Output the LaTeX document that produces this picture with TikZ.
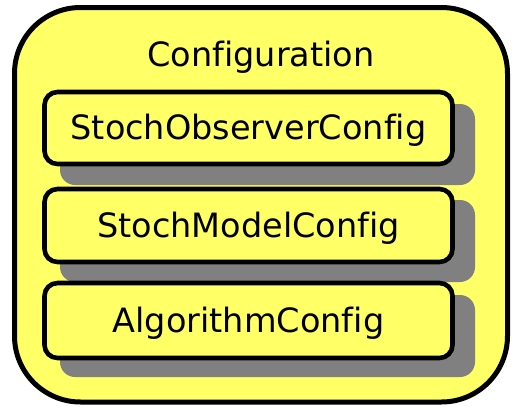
\documentclass[tikz,border=0pt]{standalone}
\usepackage{fontspec}
\setmainfont{DejaVu Sans}[Ligatures=NoCommon]
\begin{document}
\begin{tikzpicture}[x=1pt, y=-1pt,
  every node/.style={font=\fontsize{33.5}{40}\selectfont},
  outerbox/.style={draw=black, line width=5pt, fill=boxyellow, rounded corners=66pt},
  cfgbox/.style={draw=black, line width=4.6pt, fill=boxyellow, rounded corners=13pt,
    minimum width=408pt, inner sep=0pt, text height=23pt, text depth=0pt},
  shade/.style={fill=shadowgray, rounded corners=15pt}]
\definecolor{boxyellow}{RGB}{255,255,102}
\definecolor{shadowgray}{RGB}{128,128,128}
\useasboundingbox (0,0) rectangle (512,407);

% enclosing container
\draw[outerbox] (14.5,7.5) rectangle (507.5,402);
\node[anchor=base] (title) at (261,66.5) {Configuration};

% drop shadows, drawn first so the boxes sit on top
\coordinate (s1a) at (60,104);  \coordinate (s1b) at (475,185);
\coordinate (s2a) at (60,200);  \coordinate (s2b) at (475,282);
\coordinate (s3a) at (60,295);  \coordinate (s3b) at (475,377);
\fill[shade] (s1a) rectangle (s1b);
\fill[shade] (s2a) rectangle (s2b);
\fill[shade] (s3a) rectangle (s3b);

% configuration parts
\node[cfgbox, minimum height=72pt] (obs) at (248.5,128) {StochObserverConfig};
\node[cfgbox, minimum height=73pt] (model) at (248.5,225.5) {StochModelConfig};
\node[cfgbox, minimum height=75pt] (algo) at (248.5,320.5) {AlgorithmConfig};
\end{tikzpicture}
\end{document}
